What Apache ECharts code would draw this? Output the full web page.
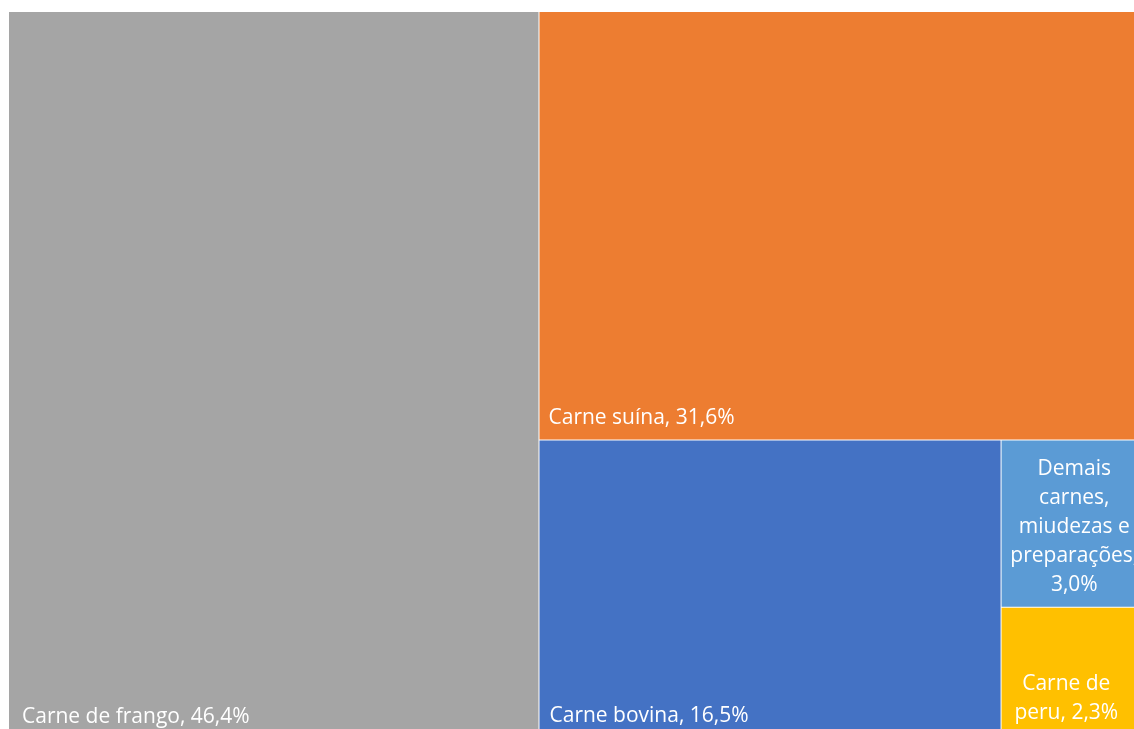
<!DOCTYPE html>
<html>
<head>
<meta charset="utf-8">
<script src="https://cdn.jsdelivr.net/npm/echarts@6/dist/echarts.min.js"></script>
<style>
html,body{margin:0;padding:0;background:#fff;}
#chart{width:1134px;height:729px;}
</style>
</head>
<body>
<div id="chart"></div>
<script>
const categories = ['Carne de frango', 'Carne suína', 'Carne bovina', 'Demais carnes, miudezas e preparações', 'Carne de peru'];
const values = [46.4, 31.6, 16.5, 3.0, 2.3];
const palette = ['#A5A5A5', '#ED7D31', '#4472C4', '#5B9BD5', '#FFC000'];

const fmt = v => v.toFixed(1).replace('.', ',') + '%';

// word-wrap for the narrow cells (as the reference wraps them)
const wrapped = {
  'Demais carnes, miudezas e preparações': v => 'Demais\ncarnes,\nmiudezas e\npreparações,\n' + fmt(v),
  'Carne de peru': v => 'Carne de\nperu, ' + fmt(v)
};

const labelStyles = [
  { position: 'insideBottomLeft', distance: 3, padding: [0, 0, 0, 10] },
  { position: 'insideBottomLeft', distance: 3, padding: [0, 0, 0, 6], offset: [0, -4] },
  { position: 'insideBottomLeft', distance: 3, padding: [0, 0, 0, 7], offset: [0, -1] },
  { position: 'inside', align: 'center', overflow: 'none', offset: [-1, 3] },
  { position: 'insideBottom', align: 'center', overflow: 'none', distance: 2, offset: [-9, 0] }
];

const data = categories.map((name, i) => ({
  name: name,
  value: values[i],
  itemStyle: { color: palette[i] },
  label: labelStyles[i]
}));

const chart = echarts.init(document.getElementById('chart'), null, { renderer: 'canvas' });
chart.setOption({
  animation: false,
  series: [{
    type: 'treemap',
    left: 9,
    top: 12,
    width: 1140,
    height: 723,
    squareRatio: 1,
    roam: false,
    nodeClick: false,
    breadcrumb: { show: false },
    itemStyle: { gapWidth: 1, borderWidth: 0, borderColor: '#fff' },
    label: {
      show: true,
      color: '#fff',
      fontFamily: 'Open Sans',
      fontSize: 21,
      lineHeight: 29,
      formatter: p => wrapped[p.name] ? wrapped[p.name](p.value) : p.name + ', ' + fmt(p.value)
    },
    data: data
  }]
});
</script>
</body>
</html>
